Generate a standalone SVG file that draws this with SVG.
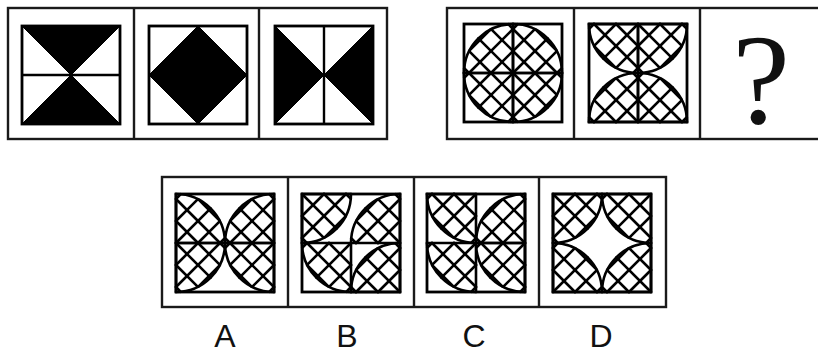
<svg xmlns="http://www.w3.org/2000/svg" xmlns:xlink="http://www.w3.org/1999/xlink" width="818" height="354" viewBox="0 0 818 354">
<style>
.frame{fill:none;stroke:#1a1a1a;stroke-width:2.4}
.sq{fill:none;stroke:#000;stroke-width:2.8}
.blk{fill:#000;stroke:#000;stroke-width:1}
.ln{fill:none;stroke:#000;stroke-width:2.4}
.h{fill:none;stroke:#000;stroke-width:2.6;stroke-linecap:round}
.lbl{font-family:"Liberation Sans","Open Sans",Arial,sans-serif;font-size:32px;fill:#111;text-anchor:middle}
.qm{font-family:"Liberation Serif","DejaVu Serif",serif;font-size:130px;fill:#111;text-anchor:middle}
</style>
<defs>
<g id="q" class="h">
<path d="M49,0 A49,49 0 0 1 0,49"/>
<path d="M0,0H49M0,0V49"/>
<path d="M22,0L0,22M44,0L0,44M43.6,22.4L22.4,43.6"/>
<path d="M0,0L34.6,34.6M22,0L43.9,21.9M0,22L21.9,43.9M44,0L48.8,4.8M0,44L4.8,48.8"/>
</g>
</defs>
<g id="frames">
<rect class="frame" x="8" y="8" width="379" height="131"/>
<path class="frame" d="M134,8V139M259,8V139"/>
<rect class="frame" x="447" y="8" width="383" height="131"/>
<path class="frame" d="M574,8V139M700,8V139"/>
<rect class="frame" x="162" y="177" width="504" height="130"/>
<path class="frame" d="M288,177V307M414,177V307M539,177V307"/>
</g>
<g id="g1p1">
<path class="blk" d="M22,26L120,26L71,75Z M22,124L120,124L71,75Z"/>
<path class="ln" d="M22,75H120"/>
<rect class="sq" x="22" y="26" width="98" height="98"/>
</g>
<g id="g1p2">
<path class="blk" d="M198,26L247,75L198,124L149,75Z"/>
<rect class="sq" x="149" y="26" width="98" height="98"/>
</g>
<g id="g1p3">
<path class="blk" d="M275,26L324,75L275,124Z M373,26L324,75L373,124Z"/>
<path class="ln" d="M324,26V124"/>
<rect class="sq" x="275" y="26" width="98" height="98"/>
</g>
<g id="g2p1">
<use xlink:href="#q" href="#q" transform="translate(513,73)"/>
<use xlink:href="#q" href="#q" transform="translate(513,73) scale(-1,1)"/>
<use xlink:href="#q" href="#q" transform="translate(513,73) scale(1,-1)"/>
<use xlink:href="#q" href="#q" transform="translate(513,73) scale(-1,-1)"/>
<rect class="sq" x="464" y="24" width="98" height="98"/>
</g>
<g id="g2p2">
<use xlink:href="#q" href="#q" transform="translate(638,24)"/>
<use xlink:href="#q" href="#q" transform="translate(638,24) scale(-1,1)"/>
<use xlink:href="#q" href="#q" transform="translate(638,122) scale(1,-1)"/>
<use xlink:href="#q" href="#q" transform="translate(638,122) scale(-1,-1)"/>
<rect class="sq" x="589" y="24" width="98" height="98"/>
</g>
<g id="g2p3">
<text class="qm" x="761" y="123">?</text>
</g>
<g id="optA">
<use xlink:href="#q" href="#q" transform="translate(176,243)"/>
<use xlink:href="#q" href="#q" transform="translate(176,243) scale(1,-1)"/>
<use xlink:href="#q" href="#q" transform="translate(274,243) scale(-1,1)"/>
<use xlink:href="#q" href="#q" transform="translate(274,243) scale(-1,-1)"/>
<rect class="sq" x="176" y="194" width="98" height="98"/>
</g>
<g id="optB">
<use xlink:href="#q" href="#q" transform="translate(302,194)"/>
<use xlink:href="#q" href="#q" transform="translate(400,243) scale(-1,-1)"/>
<use xlink:href="#q" href="#q" transform="translate(351,243) scale(-1,1)"/>
<use xlink:href="#q" href="#q" transform="translate(400,292) scale(-1,-1)"/>
<rect class="sq" x="302" y="194" width="98" height="98"/>
</g>
<g id="optC">
<use xlink:href="#q" href="#q" transform="translate(476,194) scale(-1,1)"/>
<use xlink:href="#q" href="#q" transform="translate(476,243) scale(-1,1)"/>
<use xlink:href="#q" href="#q" transform="translate(525,243) scale(-1,-1)"/>
<use xlink:href="#q" href="#q" transform="translate(525,243) scale(-1,1)"/>
<rect class="sq" x="427" y="194" width="98" height="98"/>
</g>
<g id="optD">
<use xlink:href="#q" href="#q" transform="translate(553,194)"/>
<use xlink:href="#q" href="#q" transform="translate(651,194) scale(-1,1)"/>
<use xlink:href="#q" href="#q" transform="translate(553,292) scale(1,-1)"/>
<use xlink:href="#q" href="#q" transform="translate(651,292) scale(-1,-1)"/>
<rect class="sq" x="553" y="194" width="98" height="98"/>
</g>
<g id="labels">
<text class="lbl" x="225" y="347">A</text>
<text class="lbl" x="347" y="347">B</text>
<text class="lbl" x="474" y="347">C</text>
<text class="lbl" x="601" y="347">D</text>
</g>
<g id="connectors"/>
</svg>
